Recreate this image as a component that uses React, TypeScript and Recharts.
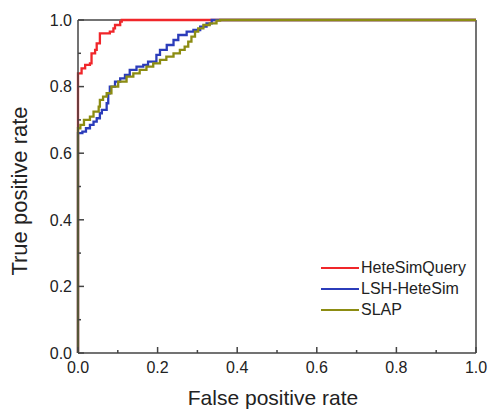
import React from "react";
import { LineChart, Line, XAxis, YAxis, ReferenceLine } from "recharts";

const FONT = "Arial, 'Liberation Sans', sans-serif";
const AXIS = "#444444";

const ticks = [0, 0.1, 0.2, 0.3, 0.4, 0.5, 0.6, 0.7, 0.8, 0.9, 1.0];

// HeteSimQuery ROC points [fpr, tpr]
const heteSimQuery: number[][] = [
  [0, 0], [0, 0.84], [0.009, 0.855], [0.018, 0.865], [0.03, 0.87],
  [0.034, 0.9], [0.043, 0.91], [0.047, 0.93], [0.055, 0.96], [0.08, 0.965],
  [0.089, 0.975], [0.093, 0.985], [0.106, 0.995], [0.11, 1.0], [1, 1],
];

// LSH-HeteSim ROC points
const lshHeteSim: number[][] = [
  [0, 0], [0, 0.66], [0.011, 0.665], [0.02, 0.675], [0.03, 0.685],
  [0.039, 0.695], [0.047, 0.705], [0.055, 0.72], [0.06, 0.73], [0.072, 0.75],
  [0.076, 0.78], [0.08, 0.8], [0.093, 0.815], [0.106, 0.825], [0.118, 0.835],
  [0.13, 0.85], [0.147, 0.86], [0.164, 0.865], [0.176, 0.875], [0.197, 0.895],
  [0.206, 0.91], [0.223, 0.925], [0.24, 0.94], [0.252, 0.955], [0.273, 0.965],
  [0.29, 0.97], [0.307, 0.98], [0.323, 0.99], [0.336, 1.0], [1, 1],
];

// SLAP ROC points
const slap: number[][] = [
  [0, 0], [0, 0.675], [0.006, 0.685], [0.015, 0.7], [0.03, 0.71],
  [0.039, 0.725], [0.052, 0.74], [0.055, 0.76], [0.063, 0.77], [0.072, 0.78],
  [0.084, 0.8], [0.101, 0.815], [0.122, 0.83], [0.139, 0.84], [0.155, 0.85],
  [0.172, 0.86], [0.189, 0.87], [0.206, 0.88], [0.222, 0.89], [0.24, 0.9],
  [0.256, 0.91], [0.268, 0.92], [0.277, 0.935], [0.285, 0.95], [0.294, 0.965],
  [0.302, 0.975], [0.315, 0.985], [0.331, 0.99], [0.348, 0.998], [0.357, 1.0],
  [1, 1],
];

const series = [
  { name: "HeteSimQuery", color: "#f0262a", points: heteSimQuery },
  { name: "LSH-HeteSim", color: "#2b3cba", points: lshHeteSim },
  { name: "SLAP", color: "#8c8c12", points: slap },
];

const toRows = (pts: number[][]) => pts.map(([x, y]) => ({ x, y }));

const isMajor = (v: number) => Math.round(v * 10) % 2 === 0;

const XTick = (props: any) => {
  const { x, y, payload } = props;
  const major = isMajor(payload.value);
  return (
    <g>
      <line x1={x} x2={x} y1={y} y2={y - (major ? 6 : 3)} stroke={AXIS} strokeWidth={1.5} />
      {major && (
        <text x={x} y={y + 20} textAnchor="middle" fontSize={16} fill="#222" fontFamily={FONT}>
          {payload.value.toFixed(1)}
        </text>
      )}
    </g>
  );
};

const YTick = (props: any) => {
  const { x, y, payload } = props;
  const major = isMajor(payload.value);
  return (
    <g>
      <line x1={x} x2={x + (major ? 6 : 3)} y1={y} y2={y} stroke={AXIS} strokeWidth={1.5} />
      {major && (
        <text x={x - 6} y={y} dy="0.36em" textAnchor="end" fontSize={16} fill="#222" fontFamily={FONT}>
          {payload.value.toFixed(1)}
        </text>
      )}
    </g>
  );
};

const LegendBox = () => (
  <div
    style={{
      position: "absolute",
      left: 321,
      top: 257,
      fontFamily: FONT,
      fontSize: 16,
      color: "#222",
      lineHeight: "21px",
    }}
  >
    {series.map((s) => (
      <div key={s.name} style={{ display: "flex", alignItems: "center" }}>
        <svg width={39} height={4} style={{ marginRight: 1 }}>
          <line x1={0} x2={38} y1={2} y2={2} stroke={s.color} strokeWidth={2} />
        </svg>
        <span>{s.name}</span>
      </div>
    ))}
  </div>
);

export default function App() {
  return (
    <div style={{ position: "absolute", left: 0, top: 0, width: 488, height: 410, background: "#fff" }}>
      <LineChart width={488} height={410} margin={{ top: 20, right: 12, left: 0, bottom: 0 }}>
        <XAxis
          type="number"
          dataKey="x"
          domain={[0, 1]}
          ticks={ticks}
          interval={0}
          tick={<XTick />}
          tickLine={false}
          tickSize={0}
          tickMargin={0}
          height={57}
          axisLine={{ stroke: AXIS, strokeWidth: 1.5 }}
          allowDuplicatedCategory={false}
        />
        <YAxis
          type="number"
          dataKey="y"
          domain={[0, 1]}
          ticks={ticks}
          interval={0}
          tick={<YTick />}
          tickLine={false}
          tickSize={0}
          tickMargin={0}
          width={78}
          axisLine={{ stroke: AXIS, strokeWidth: 1.5 }}
        />
        <ReferenceLine y={1} stroke={AXIS} strokeWidth={1.5} />
        <ReferenceLine x={1} stroke={AXIS} strokeWidth={1.5} />
        {series.map((s) => (
          <Line
            key={s.name}
            data={toRows(s.points)}
            dataKey="y"
            name={s.name}
            type="stepAfter"
            stroke={s.color}
            strokeWidth={2.3}
            dot={false}
            isAnimationActive={false}
          />
        ))}
        <text x={273} y={405} textAnchor="middle" fontSize={21} fill="#222" fontFamily={FONT}>
          False positive rate
        </text>
        <text
          x={27}
          y={191}
          transform="rotate(-90 27 191)"
          textAnchor="middle"
          fontSize={22}
          fill="#222"
          fontFamily={FONT}
        >
          True positive rate
        </text>
      </LineChart>
      <LegendBox />
    </div>
  );
}
